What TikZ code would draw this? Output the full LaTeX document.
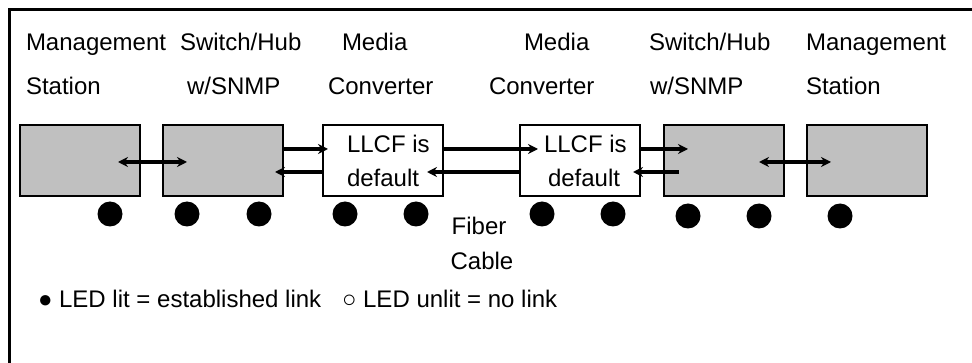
\documentclass[tikz,border=0pt]{standalone}
\usepackage{fontspec}
\setmainfont{Liberation Sans}
\usetikzlibrary{arrows.meta}
\begin{document}
\begin{tikzpicture}[x=1pt,y=-1pt,
  every node/.style={inner sep=0pt,outer sep=0pt},
  lbl/.style={anchor=base west,font=\fontsize{24}{27}\selectfont},
  devbox/.style={draw=black,line width=2pt,minimum width=120pt,minimum height=71pt,anchor=north west},
  grey/.style={devbox,fill=gray75},
  white/.style={devbox,fill=white},
  led/.style={circle,fill=black,minimum size=25pt},
  arr/.style={line width=4.2pt,-{Stealth[length=10pt,width=10pt]}},
  darr/.style={line width=4.2pt,{Stealth[length=10pt,width=10pt]}-{Stealth[length=10pt,width=10pt]}}]
\definecolor{gray75}{HTML}{C0C0C0}
\useasboundingbox (0,0) rectangle (972,363);
% frame
\coordinate (fc) at (9,10);
\coordinate (fr) at (972,10);
\coordinate (fb) at (9,363);
\draw[line width=3pt] (fb) -- (fc) -- (fr);
% titles
\node[lbl] (t1a) at (26,51) {Management};
\node[lbl] (t1b) at (26,95) {Station};
\node[lbl] (t2a) at (180,51) {Switch/Hub};
\node[lbl] (t2b) at (187,95) {w/SNMP};
\node[lbl] (t3a) at (342,51) {Media};
\node[lbl] (t3b) at (328,95) {Converter};
\node[lbl] (t4a) at (524,51) {Media};
\node[lbl] (t4b) at (489,95) {Converter};
\node[lbl] (t5a) at (649,51) {Switch/Hub};
\node[lbl] (t5b) at (650,95) {w/SNMP};
\node[lbl] (t6a) at (806,51) {Management};
\node[lbl] (t6b) at (806,95) {Station};
% boxes
\node[grey] (b1) at (20,125) {};
\node[grey] (b2) at (163,125) {};
\node[white] (b3) at (323,125) {};
\node[white] (b4) at (520,125) {};
\node[grey] (b5) at (664,125) {};
\node[grey] (b6) at (807,125) {};
% box texts
\node[lbl] (l3a) at (347,153) {LLCF is};
\node[lbl] (l3b) at (347,187) {default};
\node[lbl] (l4a) at (544,153) {LLCF is};
\node[lbl] (l4b) at (548,187) {default};
% arrows
\draw[darr] ([xshift=-22pt,yshift=-1.5pt]b1.east) -- ([xshift=24pt,yshift=-1.5pt]b2.west);
\draw[arr] ([yshift=11.5pt]b2.east) -- ([xshift=5pt,yshift=11.5pt]b3.west);
\draw[arr] ([yshift=-11.5pt]b3.west) -- ([xshift=-8pt,yshift=-11.5pt]b2.east);
\draw[arr] ([yshift=11.5pt]b3.east) -- ([xshift=18pt,yshift=11.5pt]b4.west);
\draw[arr] ([yshift=-11.5pt]b4.west) -- ([xshift=-16pt,yshift=-11.5pt]b3.east);
\draw[arr] ([yshift=11.5pt]b4.east) -- ([xshift=24pt,yshift=11.5pt]b5.west);
\draw[arr] ([xshift=15pt,yshift=-11.5pt]b5.west) -- ([xshift=-7pt,yshift=-11.5pt]b4.east);
\draw[darr] ([xshift=-25pt,yshift=-1.5pt]b5.east) -- ([xshift=24pt,yshift=-1.5pt]b6.west);
% LEDs
\node[led] (d1) at (110,214) {};
\node[led] (d2) at (187,214) {};
\node[led] (d3) at (259,214) {};
\node[led] (d4) at (345,214) {};
\node[led] (d5) at (416,214) {};
\node[led] (d6) at (542,214) {};
\node[led] (d7) at (613,214) {};
\node[led] (d8) at (688,216) {};
\node[led] (d9) at (759,216) {};
\node[led] (d10) at (840,216) {};
% fiber
\node[lbl,anchor=base] (f1) at (479,235) {Fiber};
\node[lbl,anchor=base] (f2) at (482,270) {Cable};
% legend
\node[lbl] (g1) at (38,308) {● LED lit = established link};
\node[lbl] (g2) at (342,308) {○ LED unlit = no link};
\end{tikzpicture}
\end{document}
